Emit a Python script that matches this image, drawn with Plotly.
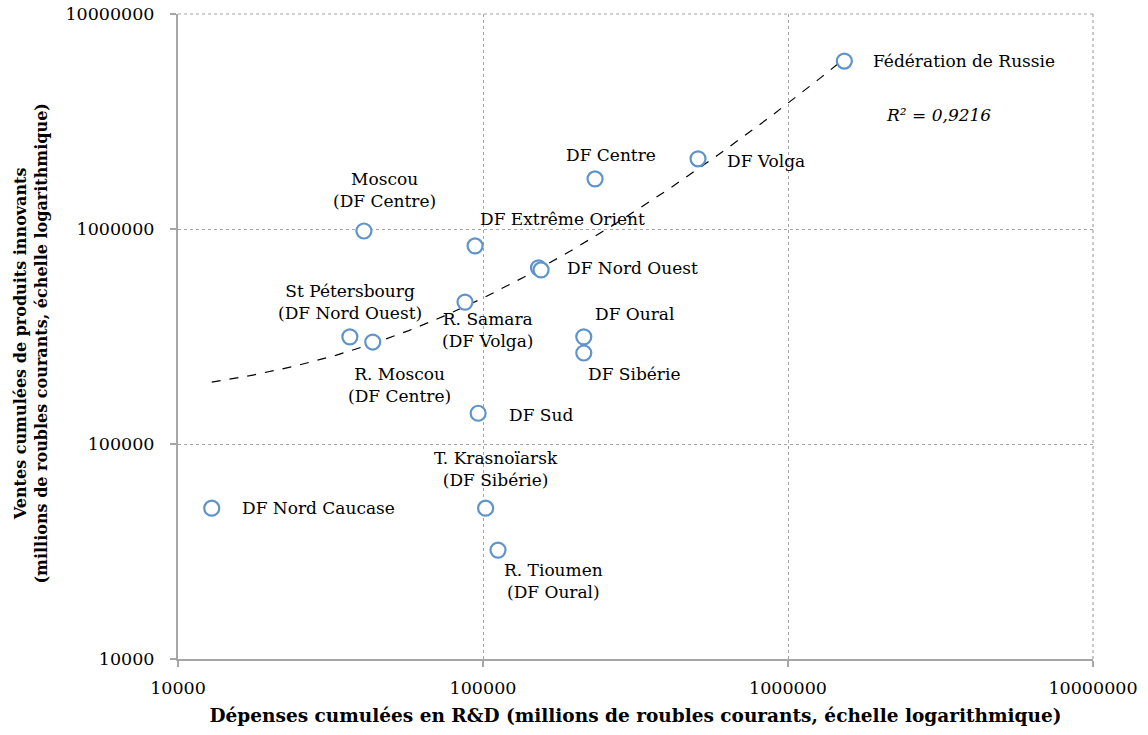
import numpy as np
import plotly.graph_objects as go

# --- data ---
regions = ["Fédération de Russie", "DF Volga", "DF Centre", "Moscou<br>(DF Centre)",
           "DF Extrême Orient", "DF Nord Ouest", "", "R. Samara<br>(DF Volga)",
           "St Pétersbourg<br>(DF Nord Ouest)", "R. Moscou<br>(DF Centre)", "DF Oural",
           "DF Sibérie", "DF Sud", "T. Krasnoïarsk<br>(DF Sibérie)",
           "R. Tioumen<br>(DF Oural)", "DF Nord Caucase"]
rd_spend = [1530000, 507000, 233000, 40700, 94200, 152000, 155000, 87300,
            36600, 43500, 214000, 214000, 96400, 102000, 112000, 12900]
innov_sales = [6040000, 2120000, 1710000, 979000, 834000, 660000, 645000, 457000,
               315000, 298000, 315000, 265000, 139000, 50300, 32100, 50300]
# order-2 polynomial trendline coefficients
trend_coef = [4.95e-7, 3.196, 152800]
r2_text = "R² = 0,9216"
tick_vals = [10000, 100000, 1000000, 10000000]
tick_text = ["10000", "100000", "1000000", "10000000"]
x_title = "Dépenses cumulées en R&D (millions de roubles courants, échelle logarithmique)"
y_title = "Ventes cumulées de produits innovants<br>(millions de roubles courants, échelle logarithmique)"

# label offsets (pixels) and anchors: style only
label_style = [
    (27, 0, "left"), (27, -2, "left"), (16, 24, "center"), (21, 41, "center"),
    (3, 27, "left"), (27, 0, "left"), (0, 0, "left"), (23, -28, "center"),
    (0, 35, "center"), (27, -43, "center"), (9, 23, "left"),
    (2, -21, "left"), (29, -2, "left"), (10, 39, "center"),
    (55, -31, "center"), (28, 0, "left"),
]

xs = np.array(rd_spend, dtype=float)
xt = np.geomspace(xs.min(), xs.max(), 200)
yt = np.polyval(trend_coef, xt)

serif = "DejaVu Serif"
blue = "#5f93cc"
grid = "#a6a6a6"

fig = go.Figure()
fig.add_trace(go.Scatter(x=xt, y=yt, mode="lines",
                         line=dict(color="black", width=1.2, dash="dash"),
                         hoverinfo="skip", showlegend=False))
fig.add_trace(go.Scatter(x=rd_spend, y=innov_sales, mode="markers",
                         marker=dict(size=15, color="white",
                                     line=dict(color=blue, width=2.2)),
                         showlegend=False))

for name, x, y, (dx, dy, anc) in zip(regions, rd_spend, innov_sales, label_style):
    if not name:
        continue
    fig.add_annotation(x=np.log10(x), y=np.log10(y), text=name, showarrow=False,
                       xanchor=anc, yanchor="middle", xshift=dx, yshift=dy,
                       align="center",
                       font=dict(family=serif, size=17, color="black"))

fig.add_annotation(x=np.log10(rd_spend[0]), y=np.log10(innov_sales[0]),
                   text="<i>" + r2_text + "</i>", showarrow=False,
                   xanchor="left", yanchor="middle", xshift=40, yshift=-54,
                   font=dict(family=serif, size=17, color="black"))

# y axis title placed as a rotated annotation left of the tick labels
fig.add_annotation(xref="paper", yref="paper", x=-0.1607, y=0.489,
                   text="<b>" + y_title + "</b>", textangle=-90, showarrow=False,
                   xanchor="center", yanchor="middle", align="center",
                   font=dict(family=serif, size=16, color="black"))

# dotted top and right borders (grid lines at the upper range edge)
fig.add_shape(type="line", xref="paper", yref="paper", x0=0, x1=1, y0=1, y1=1,
              line=dict(color=grid, width=1.2, dash="dot"), layer="below")
fig.add_shape(type="line", xref="paper", yref="paper", x0=1, x1=1, y0=0, y1=1,
              line=dict(color=grid, width=1.2, dash="dot"), layer="below")

axis_common = dict(type="log", range=[4, 7], tickvals=tick_vals, ticktext=tick_text,
                   showgrid=True, gridcolor=grid, griddash="dot", gridwidth=1,
                   showline=True, linecolor=grid, linewidth=2,
                   ticks="outside", ticklen=6, tickcolor=grid, tickwidth=2,
                   tickfont=dict(family=serif, size=17.5, color="black"),
                   ticklabeloverflow="allow",
                   zeroline=False, automargin=False)

fig.update_xaxes(**axis_common, ticklabelstandoff=6,
                 title=dict(text="<b>" + x_title + "</b>",
                            font=dict(family=serif, size=18.5, color="black"), standoff=12))
fig.update_yaxes(**axis_common, ticklabelstandoff=12)

fig.update_layout(width=1148, height=735, paper_bgcolor="white", plot_bgcolor="white",
                  margin=dict(l=178, r=55, t=14, b=76), showlegend=False)

# remove the default page margin so the figure sits at the window's top-left corner
fig.write_html("out.html", config={"displayModeBar": False},
               post_script="document.body.style.margin='0';document.body.style.overflow='hidden';")
